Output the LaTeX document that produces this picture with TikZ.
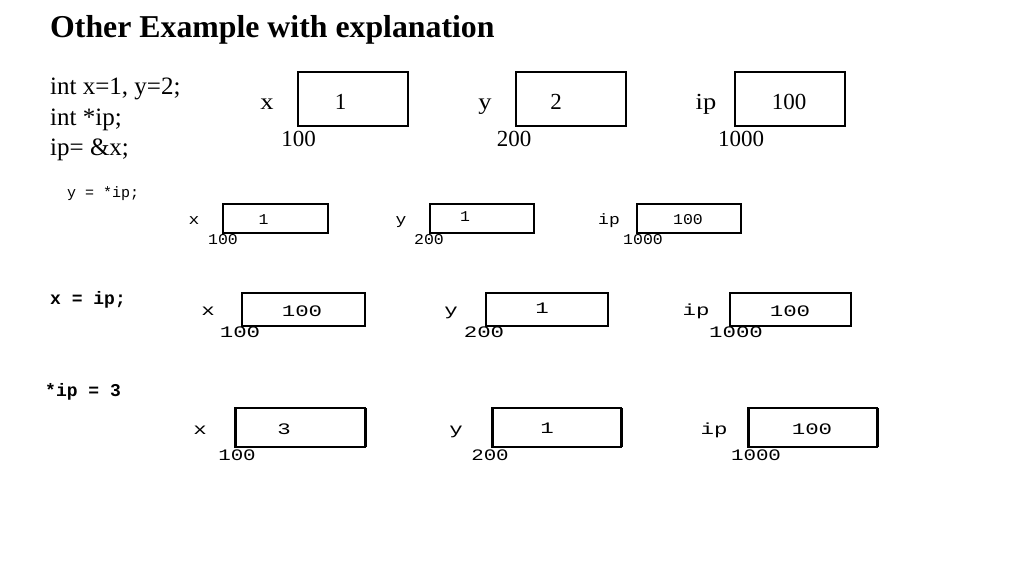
\documentclass[tikz,border=0pt]{standalone}
\usepackage{fontspec}
\setmainfont{Liberation Serif}
\newfontfamily\monofam{Liberation Mono}
\newcommand{\widen}[2]{\scalebox{#1}[1]{#2}}
\begin{document}
\begin{tikzpicture}[x=1pt,y=-1pt,
  cell/.style={draw, inner sep=0pt, outer sep=0pt},
  txt/.style={anchor=base, inner sep=0pt, outer sep=0pt},
  ttl/.style={anchor=base west, inner sep=0pt, font=\bfseries\fontsize{31.8}{32}\selectfont},
  code/.style={anchor=base west, inner sep=0pt, font=\fontsize{25}{25}\selectfont},
  rowa/.style={txt, font=\fontsize{23}{23}\selectfont},
  rowb/.style={txt, font=\monofam\fontsize{15}{15}\selectfont},
  rowc/.style={txt, font=\monofam\fontsize{16}{16}\selectfont},
  rowd/.style={txt, font=\monofam\fontsize{16}{16}\selectfont},
  stmt/.style={anchor=base west, inner sep=0pt, font=\monofam\fontsize{15}{15}\selectfont},
  stmtb/.style={anchor=base west, inner sep=0pt, font=\monofam\bfseries\fontsize{18}{18}\selectfont}]
\fill[white] (0,0) rectangle (1024,576);
\useasboundingbox (0,0) rectangle (1024,576);

% title and code
\node[ttl] (title) at (50,37) {Other Example with explanation};
\node[code] (c1) at (50,94) {int x=1, y=2;};
\node[code] (c2) at (50,125) {int *ip;};
\node[code] (c3) at (50,155) {ip= \&x;};

% row 1
\node[cell, line width=1.5pt, minimum width=110pt, minimum height=54pt] (a1) at (353,99) {};
\node[cell, line width=1.5pt, minimum width=110pt, minimum height=54pt] (a2) at (571,99) {};
\node[cell, line width=1.5pt, minimum width=110pt, minimum height=54pt] (a3) at (790,99) {};
\node[rowa] (la1) at (267,109) {\widen{1.15}{x}};
\node[rowa] (la2) at (485,109) {\widen{1.15}{y}};
\node[rowa] (la3) at (706,109) {\widen{1.15}{ip}};
\node[rowa] (va1) at (340.5,109) {1};
\node[rowa] (va2) at (556,109) {2};
\node[rowa] (va3) at (789,109) {100};
\node[rowa] (da1) at (298.5,146) {100};
\node[rowa] (da2) at (514,146) {200};
\node[rowa] (da3) at (741,146) {1000};

% row 2
\node[stmt] (s2) at (67,197) {y = *ip;};
\node[cell, line width=1.2pt, minimum width=105pt, minimum height=29pt] (b1) at (275.5,218.5) {};
\node[cell, line width=1.2pt, minimum width=104pt, minimum height=29pt] (b2) at (482,218.5) {};
\node[cell, line width=1.2pt, minimum width=104pt, minimum height=29pt] (b3) at (689,218.5) {};
\node[rowb] (lb1) at (194,224) {\widen{1.2}{x}};
\node[rowb] (lb2) at (401,224) {\widen{1.2}{y}};
\node[rowb] (lb3) at (609,224) {\widen{1.2}{ip}};
\node[rowb] (vb1) at (263.5,224) {\widen{1.1}{1}};
\node[rowb] (vb2) at (465,221) {\widen{1.1}{1}};
\node[rowb] (vb3) at (688,224) {\widen{1.1}{100}};
\node[rowb] (db1) at (223,244) {\widen{1.1}{100}};
\node[rowb] (db2) at (429,244) {\widen{1.1}{200}};
\node[rowb] (db3) at (643,244) {\widen{1.1}{1000}};

% row 3
\node[stmtb] (s3) at (50,304) {x = ip;};
\node[cell, line width=1.5pt, minimum width=123pt, minimum height=33pt] (c1b) at (303.5,309.5) {};
\node[cell, line width=1.5pt, minimum width=122pt, minimum height=33pt] (c2b) at (547,309.5) {};
\node[cell, line width=1.5pt, minimum width=121pt, minimum height=33pt] (c3b) at (790.5,309.5) {};
\draw[line width=2.6pt] (c1b.north east) -- (c1b.south east);
\draw[line width=2.6pt] (c2b.north east) -- (c2b.south east);
\draw[line width=2.6pt] (c3b.north east) -- (c3b.south east);
\node[rowc] (lc1) at (208,315) {\widen{1.4}{x}};
\node[rowc] (lc2) at (451,315) {\widen{1.4}{y}};
\node[rowc] (lc3) at (696,315) {\widen{1.4}{ip}};
\node[rowc] (vc1) at (302,316) {\widen{1.4}{100}};
\node[rowc] (vc2) at (542,313) {\widen{1.4}{1}};
\node[rowc] (vc3) at (790,316) {\widen{1.4}{100}};
\node[rowc] (dc1) at (240,337) {\widen{1.4}{100}};
\node[rowc] (dc2) at (484,337) {\widen{1.4}{200}};
\node[rowc] (dc3) at (736,337) {\widen{1.4}{1000}};

% row 4
\node[stmtb] (s4) at (45,396) {*ip = 3};
\node[cell, line width=1.8pt, minimum width=130pt, minimum height=39pt] (d1) at (300,427.5) {};
\node[cell, line width=1.8pt, minimum width=129pt, minimum height=39pt] (d2) at (556.5,427.5) {};
\node[cell, line width=1.8pt, minimum width=129pt, minimum height=39pt] (d3) at (812.5,427.5) {};
\foreach \n in {d1,d2,d3}{
  \draw[line width=3pt] (\n.north west) -- (\n.south west);
  \draw[line width=3pt] (\n.north east) -- (\n.south east);
}
\node[rowd] (ld1) at (200,434) {\widen{1.4}{x}};
\node[rowd] (ld2) at (456,434) {\widen{1.4}{y}};
\node[rowd] (ld3) at (714,434) {\widen{1.4}{ip}};
\node[rowd] (vd1) at (284,434) {\widen{1.4}{3}};
\node[rowd] (vd2) at (547,433) {\widen{1.4}{1}};
\node[rowd] (vd3) at (812,434) {\widen{1.4}{100}};
\node[rowd] (dd1) at (237,460) {\widen{1.3}{100}};
\node[rowd] (dd2) at (490,460) {\widen{1.3}{200}};
\node[rowd] (dd3) at (756,460) {\widen{1.3}{1000}};
\end{tikzpicture}
\end{document}
